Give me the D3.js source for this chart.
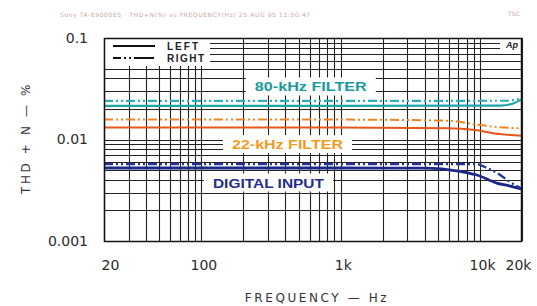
<!DOCTYPE html>
<html>
<head>
<meta charset="utf-8">
<script src="https://cdn.jsdelivr.net/npm/d3@7"></script>
<style>
  body { margin: 0; background: #fff; }
  svg { display: block; font-family: "DejaVu Sans", sans-serif; }
</style>
</head>
<body>
<div id="wrapper"></div>
<script>
// values (frequency in Hz, THD+N in %)
const filter80Left = [[20, 0.0214], [1000, 0.0214], [14000, 0.0216], [17500, 0.0228], [20000, 0.0250]];
const filter80Right = [[20, 0.0240], [1000, 0.0240], [15000, 0.0241], [20000, 0.0255]];
const filter22Left = [[20, 0.0131], [1000, 0.0131], [6000, 0.0129], [8900, 0.0125], [13900, 0.0113], [20000, 0.0109]];
const filter22Right = [[20, 0.0157], [1000, 0.0157], [6100, 0.0153], [8900, 0.0142], [13900, 0.0132], [20000, 0.0129]];
const digitalLeft = [[20, 0.00524], [1000, 0.00524], [4000, 0.00522], [7200, 0.00484], [9500, 0.00447], [13200, 0.00372], [16400, 0.00348], [20000, 0.00325]];
const digitalRight = [[20, 0.00574], [1000, 0.00574], [9500, 0.00572], [11000, 0.00530], [13200, 0.00470], [16400, 0.00382], [20000, 0.00325]];

const xTickValues = [20, 100, 1000, 10000, 20000];
const xTickLabels = ["20", "100", "1k", "10k", "20k"];
const yTickValues = [0.001, 0.01, 0.1];
const yTickLabels = ["0.001", "0.01", "0.1"];

function drawChart() {
  let dimensions = {
    width: 537,
    height: 306,
    margin: { top: 38, right: 15, bottom: 65, left: 104 },
  };
  dimensions.boundedWidth = dimensions.width - dimensions.margin.left - dimensions.margin.right;
  dimensions.boundedHeight = dimensions.height - dimensions.margin.top - dimensions.margin.bottom;

  const wrapper = d3.select("#wrapper")
    .append("svg")
    .attr("width", dimensions.width)
    .attr("height", dimensions.height);

  const bounds = wrapper.append("g")
    .attr("transform", `translate(${dimensions.margin.left},${dimensions.margin.top})`);

  const xScale = d3.scaleLog().domain([20, 20000]).range([0, dimensions.boundedWidth]);
  const yScale = d3.scaleLog().domain([0.001, 0.1]).range([dimensions.boundedHeight, 0]);

  // grid
  const grid = bounds.append("g").attr("stroke", "#222").attr("stroke-width", 1.1);
  grid.selectAll(".vgrid")
    .data(xScale.ticks())
    .join("line")
    .attr("x1", (d) => Math.round(xScale(d)) + 0.5)
    .attr("x2", (d) => Math.round(xScale(d)) + 0.5)
    .attr("y1", 0)
    .attr("y2", dimensions.boundedHeight);
  grid.selectAll(".hgrid")
    .data(yScale.ticks())
    .join("line")
    .attr("x1", 0)
    .attr("x2", dimensions.boundedWidth)
    .attr("y1", (d) => Math.round(yScale(d)) + 0.5)
    .attr("y2", (d) => Math.round(yScale(d)) + 0.5);

  // white boxes behind annotations
  const labels = [
    { text: "80-kHz FILTER", f: 610, v: 0.0333, w: 112, color: "#1b9a9e" },
    { text: "22-kHz FILTER", f: 415, v: 0.0090, w: 111, color: "#f39a1e" },
    { text: "DIGITAL INPUT", f: 303, v: 0.00377, w: 111, color: "#1f2c8f" },
  ];
  bounds.selectAll(".label-bg")
    .data(labels)
    .join("rect")
    .attr("x", (d) => xScale(d.f) - d.w / 2 - 9)
    .attr("y", (d) => yScale(d.v) - 9)
    .attr("width", (d) => d.w + 18)
    .attr("height", 18)
    .attr("fill", "#fff");

  // legend box
  bounds.append("rect")
    .attr("x", 0).attr("y", 0)
    .attr("width", 106).attr("height", 28)
    .attr("fill", "#fff");
  bounds.append("rect")
    .attr("x", dimensions.boundedWidth - 22).attr("y", 1)
    .attr("width", 21).attr("height", 12)
    .attr("fill", "#fff");

  const lineGenerator = d3.line()
    .x((d) => xScale(d[0]))
    .y((d) => yScale(d[1]))
    .curve(d3.curveMonotoneX);

  const dashDot = "9,3,2,3,2,3";
  const series = [
    { data: filter80Left, color: "#1fa4ac", dash: null, w: 2.2 },
    { data: filter80Right, color: "#2cb0b8", dash: dashDot, w: 2.2 },
    { data: filter22Left, color: "#e8561c", dash: null, w: 2 },
    { data: filter22Right, color: "#f08424", dash: dashDot, w: 2 },
    { data: digitalLeft, color: "#1c2888", dash: null, w: 2.8 },
    { data: digitalRight, color: "#24329a", dash: dashDot, w: 2.4 },
  ];
  bounds.selectAll(".curve")
    .data(series)
    .join("path")
    .attr("d", (d) => lineGenerator(d.data))
    .attr("fill", "none")
    .attr("stroke", (d) => d.color)
    .attr("stroke-width", (d) => d.w)
    .attr("stroke-dasharray", (d) => d.dash);

  bounds.selectAll(".label")
    .data(labels)
    .join("text")
    .attr("x", (d) => xScale(d.f) - d.w / 2)
    .attr("y", (d) => yScale(d.v) + 5)
    .attr("textLength", (d) => d.w)
    .attr("lengthAdjust", "spacingAndGlyphs")
    .attr("fill", (d) => d.color)
    .style("font-family", "'Liberation Sans', Arial, sans-serif")
    .style("font-weight", "bold")
    .style("font-size", "13px")
    .text((d) => d.text);

  // legend
  const legend = bounds.append("g").attr("transform", "translate(9,0)");
  legend.append("line")
    .attr("x1", 0).attr("x2", 42).attr("y1", 8).attr("y2", 8)
    .attr("stroke", "#111").attr("stroke-width", 2);
  legend.append("line")
    .attr("x1", 0).attr("x2", 42).attr("y1", 20).attr("y2", 20)
    .attr("stroke", "#111").attr("stroke-width", 2)
    .attr("stroke-dasharray", "8,3,2,3,2,3,20");
  legend.selectAll(".legend-text")
    .data(["LEFT", "RIGHT"])
    .join("text")
    .attr("x", 54)
    .attr("y", (d, i) => 12 + i * 12)
    .attr("textLength", (d, i) => (i ? 37 : 31))
    .attr("fill", "#222")
    .style("font-family", "'Liberation Sans', Arial, sans-serif")
    .style("font-weight", "bold")
    .style("font-size", "10px")
    .text((d) => d);

  bounds.append("text")
    .attr("x", dimensions.boundedWidth - 4)
    .attr("y", 10)
    .attr("text-anchor", "end")
    .attr("fill", "#222")
    .style("font-family", "'Liberation Sans', Arial, sans-serif")
    .style("font-weight", "bold")
    .style("font-style", "italic")
    .style("font-size", "9px")
    .text("Ap");

  // frame
  bounds.append("rect")
    .attr("x", 0.5).attr("y", 0.5)
    .attr("width", dimensions.boundedWidth - 1)
    .attr("height", dimensions.boundedHeight)
    .attr("fill", "none")
    .attr("stroke", "#111")
    .attr("stroke-width", 1.5);

  // axes
  const xAxisGenerator = d3.axisBottom(xScale)
    .tickValues(xTickValues)
    .tickFormat((d, i) => xTickLabels[i])
    .tickSize(0)
    .tickPadding(19);
  const xAxis = bounds.append("g")
    .attr("transform", `translate(0,${dimensions.boundedHeight})`)
    .call(xAxisGenerator);
  xAxis.select(".domain").remove();
  xAxis.selectAll("text")
    .attr("dx", (d, i) => (i === 0 ? 6 : i === xTickValues.length - 1 ? -4 : 2))
    .attr("fill", "#2b2b2b")
    .style("font-family", "'DejaVu Sans', sans-serif")
    .style("font-size", "14px");

  const yAxisGenerator = d3.axisLeft(yScale)
    .tickValues(yTickValues)
    .tickFormat((d, i) => yTickLabels[i])
    .tickSize(0)
    .tickPadding(16);
  const yAxis = bounds.append("g").call(yAxisGenerator);
  yAxis.select(".domain").remove();
  yAxis.selectAll("text")
    .attr("fill", "#2b2b2b")
    .style("font-family", "'DejaVu Sans', sans-serif")
    .style("font-size", "14px");

  wrapper.append("text")
    .attr("x", dimensions.margin.left + dimensions.boundedWidth / 2 + 4)
    .attr("y", 302)
    .attr("text-anchor", "middle")
    .attr("fill", "#333")
    .style("font-size", "12px")
    .style("letter-spacing", "2.6px")
    .text("FREQUENCY — Hz");

  wrapper.append("text")
    .attr("transform", `translate(30,${dimensions.margin.top + 100}) rotate(-90)`)
    .attr("text-anchor", "middle")
    .attr("fill", "#333")
    .style("font-size", "12px")
    .style("letter-spacing", "2.6px")
    .text("THD + N — %");

  // faint plotter header
  wrapper.append("text")
    .attr("x", 60)
    .attr("y", 17)
    .attr("fill", "#c8a8a0")
    .style("font-size", "6px")
    .style("letter-spacing", "0.6px")
    .text("Sony TA-E9000ES  ·        THD+N(%) vs FREQUENCY(Hz)      25 AUG 95  11:50:47");
  wrapper.append("text")
    .attr("x", 508)
    .attr("y", 16)
    .attr("fill", "#c8a8a0")
    .style("font-size", "6px")
    .text("T5C");
}

drawChart();
</script>
</body>
</html>
